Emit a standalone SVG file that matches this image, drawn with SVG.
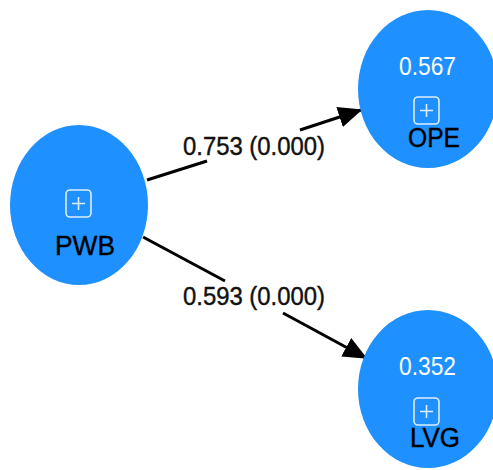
<svg xmlns="http://www.w3.org/2000/svg" width="493" height="470" viewBox="0 0 493 470">
  <style>
    .node { fill: #1E90FF; }
    .val { font-family: "Liberation Sans", Arial, sans-serif; font-size: 25px; fill: #ffffff; text-anchor: middle; }
    .lbl { font-family: "Liberation Sans", Arial, sans-serif; font-size: 27px; fill: #000000; stroke: #000000; stroke-width: 0.4; text-anchor: middle; }
    .elbl { font-family: "Liberation Sans", Arial, sans-serif; font-size: 25px; fill: #111111; stroke: #111111; stroke-width: 0.4; text-anchor: middle; }
    .icon { fill: none; stroke: #ffffff; stroke-width: 1.6; stroke-opacity: 0.85; }
    .edge { stroke: #000000; stroke-width: 3; fill: none; }
  </style>
  <defs>
    <marker id="arr" markerUnits="strokeWidth" markerWidth="8" markerHeight="7" refX="7.5" refY="3.5" orient="auto">
      <path d="M0,0 L8,3.5 L0,7 z" fill="#000000"/>
    </marker>
  </defs>
  <rect width="493" height="470" fill="#ffffff"/>
  <g id="connectors">
    <g id="edge-pwb-ope">
      <line class="edge" x1="147" y1="180" x2="207" y2="161"/>
      <line class="edge" x1="300" y1="130" x2="361" y2="110" marker-end="url(#arr)"/>
      <text class="elbl" x="254" y="155" textLength="142" lengthAdjust="spacingAndGlyphs">0.753 (0.000)</text>
    </g>
    <g id="edge-pwb-lvg">
      <line class="edge" x1="143" y1="237" x2="225" y2="281"/>
      <line class="edge" x1="283" y1="313" x2="366" y2="358" marker-end="url(#arr)"/>
      <text class="elbl" x="254" y="305" textLength="142" lengthAdjust="spacingAndGlyphs">0.593 (0.000)</text>
    </g>
  </g>
  <g id="node-PWB">
    <ellipse class="node" cx="79" cy="205" rx="69" ry="80"/>
    <rect class="icon" x="66" y="190" width="25" height="27" rx="4"/>
    <path class="icon" d="M78.5,197 V210 M72,203.5 H85"/>
    <text class="lbl" x="85" y="255" textLength="60" lengthAdjust="spacingAndGlyphs">PWB</text>
  </g>
  <g id="node-OPE">
    <ellipse class="node" cx="428" cy="89" rx="70" ry="79"/>
    <text class="val" x="427.5" y="75" textLength="57" lengthAdjust="spacingAndGlyphs">0.567</text>
    <rect class="icon" x="414" y="97" width="25" height="27" rx="4"/>
    <path class="icon" d="M426.5,104 V117 M420,110.5 H433"/>
    <text class="lbl" x="434" y="147" textLength="52" lengthAdjust="spacingAndGlyphs">OPE</text>
  </g>
  <g id="node-LVG">
    <ellipse class="node" cx="428" cy="389" rx="70" ry="79"/>
    <text class="val" x="427.5" y="375" textLength="57" lengthAdjust="spacingAndGlyphs">0.352</text>
    <rect class="icon" x="414" y="398" width="25" height="27" rx="4"/>
    <path class="icon" d="M426.5,405 V418 M420,411.5 H433"/>
    <text class="lbl" x="435" y="447" textLength="50" lengthAdjust="spacingAndGlyphs">LVG</text>
  </g>
</svg>
